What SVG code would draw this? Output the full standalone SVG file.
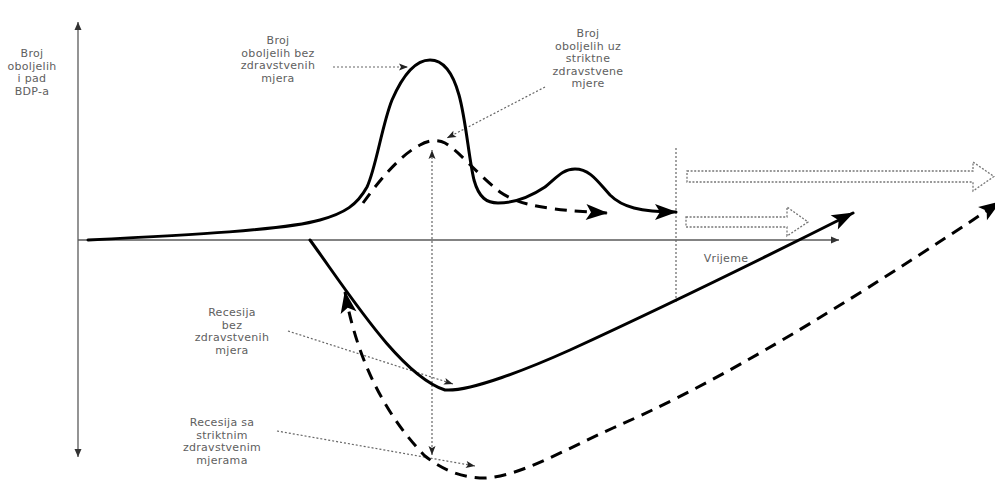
<svg xmlns="http://www.w3.org/2000/svg" width="995" height="480" viewBox="0 0 995 480">
  <style>
    .lbl { font-family: "DejaVu Sans", "Liberation Sans", sans-serif; font-size: 11px; fill: #606060; text-anchor: middle; letter-spacing: 0.3px; }
    .axis { stroke: #5a5a5a; stroke-width: 1.3; fill: none; }
    .guide { stroke: #666; stroke-width: 1.2; stroke-dasharray: 2 2; fill: none; }
    .solid { stroke: #000; stroke-width: 3; fill: none; stroke-linecap: round; stroke-linejoin: round; }
    .dash { stroke: #000; stroke-width: 3; fill: none; stroke-dasharray: 12 8; }
    .hollow { stroke: #777; stroke-width: 1.3; stroke-dasharray: 2 1.6; fill: #fff; }
  </style>
  <defs>
    <marker id="big" markerUnits="userSpaceOnUse" markerWidth="22" markerHeight="18" refX="21" refY="8" orient="auto-start-reverse" overflow="visible">
      <path d="M0,0 L22,8 L0,16 L5,8 Z" fill="#000"/>
    </marker>
    <marker id="small" markerUnits="userSpaceOnUse" markerWidth="9" markerHeight="7" refX="9" refY="3.5" orient="auto-start-reverse" overflow="visible">
      <path d="M0,0 L9,3.5 L0,7 L2,3.5 Z" fill="#222"/>
    </marker>
    <marker id="ax" markerUnits="userSpaceOnUse" markerWidth="8" markerHeight="7" refX="8" refY="3.5" orient="auto-start-reverse" overflow="visible">
      <path d="M0,0 L8,3.5 L0,7 Z" fill="#333"/>
    </marker>
  </defs>

  <g id="axes">
    <line class="axis" x1="78" y1="457" x2="78" y2="22" marker-start="url(#ax)" marker-end="url(#ax)"/>
    <line class="axis" x1="78" y1="240" x2="839" y2="240" marker-end="url(#ax)"/>
  </g>

  <g id="label-y">
    <text class="lbl" x="32" y="57">Broj</text>
    <text class="lbl" x="32" y="69.5">oboljelih</text>
    <text class="lbl" x="32" y="82">i pad</text>
    <text class="lbl" x="32" y="94.5">BDP-a</text>
  </g>
  <g id="label-x">
    <text class="lbl" x="726" y="262">Vrijeme</text>
  </g>
  <g id="label-bez">
    <text class="lbl" x="278" y="44">Broj</text>
    <text class="lbl" x="278" y="56.5">oboljelih bez</text>
    <text class="lbl" x="278" y="69">zdravstvenih</text>
    <text class="lbl" x="278" y="81.5">mjera</text>
  </g>
  <g id="label-uz">
    <text class="lbl" x="588" y="37">Broj</text>
    <text class="lbl" x="588" y="49.5">oboljelih uz</text>
    <text class="lbl" x="588" y="62">striktne</text>
    <text class="lbl" x="588" y="74.5">zdravstvene</text>
    <text class="lbl" x="588" y="87">mjere</text>
  </g>
  <g id="label-recesija-bez">
    <text class="lbl" x="232" y="316">Recesija</text>
    <text class="lbl" x="232" y="328.5">bez</text>
    <text class="lbl" x="232" y="341">zdravstvenih</text>
    <text class="lbl" x="232" y="353.5">mjera</text>
  </g>
  <g id="label-recesija-sa">
    <text class="lbl" x="222" y="426">Recesija sa</text>
    <text class="lbl" x="222" y="438.5">striktnim</text>
    <text class="lbl" x="222" y="451">zdravstvenim</text>
    <text class="lbl" x="222" y="463.5">mjerama</text>
  </g>

  <g id="hollow-arrows">
    <polygon class="hollow" points="687,171 973,171 973,162 994,176.5 973,191 973,182 687,182"/>
    <polygon class="hollow" points="686,217 787,217 787,207 808,222 787,236 787,227 686,227"/>
  </g>

  <g id="connectors">
    <line class="guide" x1="676" y1="148" x2="676" y2="302"/>
    <line class="guide" x1="432" y1="455" x2="432" y2="150" marker-start="url(#small)" marker-end="url(#small)"/>
    <line class="guide" x1="333" y1="67" x2="408" y2="67" marker-end="url(#small)"/>
    <line class="guide" x1="545" y1="87" x2="447" y2="138" marker-end="url(#small)"/>
    <line class="guide" x1="288" y1="331" x2="453" y2="384" marker-end="url(#small)"/>
    <line class="guide" x1="277" y1="431" x2="475" y2="466" marker-end="url(#small)"/>

    <path class="solid" d="M88,240 C190,235 285,230 320,220 C345,213 357,205 367,187 C376,168 382,125 392,100 C402,77 415,60 430,60 C445,60 454,77 459,95 C466,120 469,160 474,180 C479,198 487,203 498,203 C515,203 530,197 545,187 C557,177 563,169 575,169 C590,169 598,182 610,195 C622,207 640,212 676,212" marker-end="url(#big)"/>
    <path class="dash" d="M363,203 C378,182 400,155 420,145 C428,140 438,139 445,143 C460,152 475,172 500,192 C520,206 550,210 607,213" marker-end="url(#big)"/>
    <path class="solid" d="M310,240 C350,295 400,375 445,390 C470,392 530,368 570,350 C620,327 700,290 853,213" marker-end="url(#big)"/>
    <path class="dash" d="M345,292 C355,350 380,410 425,456 C445,472 465,478 485,478 C520,476 560,452 613,428 C700,390 800,335 1000,202" marker-start="url(#big)" marker-end="url(#big)"/>
  </g>
</svg>
